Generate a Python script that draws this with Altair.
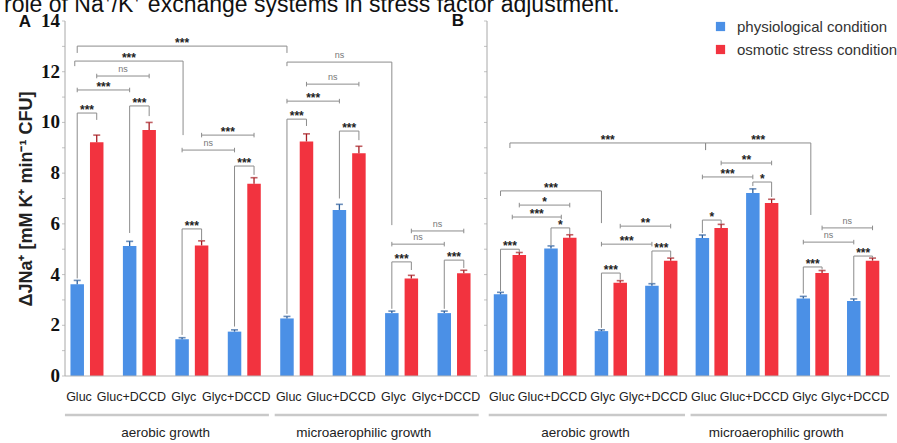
import altair as alt
import pandas as pd

# ---------------- data ----------------
groups = ["Gluc", "Gluc+DCCD", "Glyc", "Glyc+DCCD"]
growth = ["aerobic growth", "microaerophilic growth"]
conditions = ["physiological condition", "osmotic stress condition"]

# Panel A (8 bars per condition: aerobic x4, microaerophilic x4)
a_phys = [3.62, 5.13, 1.45, 1.75, 2.27, 6.55, 2.48, 2.48]
a_phys_err = [0.15, 0.18, 0.06, 0.07, 0.08, 0.22, 0.08, 0.08]
a_osm = [9.22, 9.70, 5.15, 7.58, 9.25, 8.78, 3.85, 4.05]
a_osm_err = [0.28, 0.30, 0.18, 0.24, 0.30, 0.28, 0.12, 0.12]

# Panel B
b_phys = [3.22, 5.03, 1.77, 3.56, 5.44, 7.22, 3.06, 2.96]
b_phys_err = [0.08, 0.10, 0.05, 0.08, 0.12, 0.16, 0.08, 0.08]
b_osm = [4.77, 5.45, 3.68, 4.55, 5.84, 6.82, 4.06, 4.55]
b_osm_err = [0.10, 0.12, 0.08, 0.10, 0.14, 0.15, 0.10, 0.10]

y_ticks = list(range(0, 15))

# significance brackets: (group1, side1, group2, side2, level, leg1 end, leg2 end, label)
# side: -1 physiological bar, +1 osmotic bar, 0 group centre; leg end None = short caps
a_brackets = [
    (0, -1, 4, -1, 13.01, 12.74, 12.74, "***"),
    (0, -1.25, 2, -0.9, 12.42, 12.22, 9.5, "***"),
    (0, 1, 1, 1, 11.83, None, None, "ns"),
    (0, -1, 1, -1, 11.28, None, None, "***"),
    (1, -1, 1, 1, 10.65, 5.64, 10.25, "***"),
    (0, -1, 0, 1, 10.37, 3.85, 10.1, "***"),
    (2, -1, 3, -1, 8.91, None, None, "ns"),
    (2, 1, 3, 1, 9.5, None, None, "***"),
    (3, -1, 3, 1, 8.28, 1.95, 7.93, "***"),
    (2, -1, 2, 1, 5.8, 1.62, 5.36, "***"),
    (4, -1, 6, -1, 12.38, 12.22, 5.95, "ns"),
    (4, 1, 5, 1, 11.51, None, None, "ns"),
    (4, -1, 5, -1, 10.84, None, None, "***"),
    (4, -1, 4, 1, 10.13, 2.45, 9.86, "***"),
    (5, -1, 5, 1, 9.66, 7.0, 9.3, "***"),
    (6, 1, 7, 1, 5.72, None, None, "ns"),
    (6, -1, 7, -1, 5.2, None, None, "ns"),
    (6, -1, 6, 1, 4.5, 2.65, 4.18, "***"),
    (7, -1, 7, 1, 4.57, 2.65, 4.26, "***"),
]
b_brackets = [
    (0, 0, 4, -0.66, 9.19, 8.99, 8.91, "***"),
    (4, -0.66, 6, -0.2, 9.19, 8.91, 6.35, "***"),
    (4, 1, 5, 1, 8.4, None, None, "**"),
    (4, -1, 5, -1, 7.85, None, None, "***"),
    (5, -1, 5, 1, 7.65, 7.49, 7.06, "*"),
    (4, -1, 4, 1, 6.15, 5.64, 5.99, "*"),
    (6, 1, 7, 1, 5.84, None, None, "ns"),
    (6, -1, 7, -1, 5.28, None, None, "ns"),
    (6, -1, 6, 1, 4.3, 3.25, 4.2, "***"),
    (7, -1, 7, 1, 4.73, 3.15, 4.66, "***"),
    (0, -1, 2, -1, 7.3, 7.1, 6.03, "***"),
    (0, 1, 1, 1, 6.74, None, None, "*"),
    (0, 0.25, 1, 0.1, 6.27, None, None, "***"),
    (1, -1, 1, 1, 5.84, 5.15, 5.6, "*"),
    (0, -1, 0, 1, 5.0, 3.35, 4.88, "***"),
    (2, 1, 3, 1, 5.91, None, None, "**"),
    (2, -1, 3, -1, 5.2, None, None, "***"),
    (3, -1, 3, 1, 4.93, 3.65, 4.67, "***"),
    (2, -1, 2, 1, 4.06, 1.9, 3.8, "***"),
]

title_text = "role of Na\u207a/K\u207a exchange systems in stress factor adjustment."
y_title = "\u0394JNa\u207a [mM K\u207a min\u207b\u00b9 CFU]"

# ---------------- styling ----------------
BLUE = "#4b90e6"
RED = "#f2333f"
BLUE_D = "#2c5e9c"
RED_D = "#a61c22"
GRAY = "#a8a8a8"
OFF = 0.186          # half distance between the paired bars (group units)
CAP = 0.09           # half height of bracket caps
SANS = "Liberation Sans"


def bars_df(phys, perr, osm, oerr):
    rows = []
    for i in range(len(phys)):
        for cond, vals, errs, s in ((conditions[0], phys, perr, -1),
                                    (conditions[1], osm, oerr, 1)):
            rows.append(dict(group=groups[i % 4], growth=growth[i // 4], idx=i,
                             condition=cond, pos=i + s * OFF,
                             value=vals[i], top=vals[i] + errs[i]))
    return pd.DataFrame(rows)


def bracket_dfs(brs):
    segs, labs = [], []
    for g1, s1, g2, s2, lvl, b1, b2, lab in brs:
        x1 = g1 + s1 * OFF
        x2 = g2 + s2 * OFF
        segs.append(dict(x=x1, x2=x2, y=lvl, y2=lvl))
        for xx, bb in ((x1, b1), (x2, b2)):
            if bb is None:
                segs.append(dict(x=xx, x2=xx, y=lvl - CAP, y2=lvl + CAP))
            else:
                segs.append(dict(x=xx, x2=xx, y=bb, y2=lvl))
        labs.append(dict(x=(x1 + x2) / 2, y=lvl, label=lab))
    return pd.DataFrame(segs), pd.DataFrame(labs)


cat_df = pd.DataFrame([dict(idx=i, group=groups[i % 4]) for i in range(8)])
growth_df = pd.DataFrame([
    dict(growth=growth[k], x0=4 * k - 0.42, x1=4 * k + 3 + 0.47,
         mid=4 * k + 1.5 - 0.22 * k)
    for k in range(2)
])
tick_df = pd.DataFrame({"v": y_ticks})
one = pd.DataFrame({"a": [0]})

y_scale = alt.Scale(domain=[0, 14], nice=False, zero=True)
color_scale = alt.Scale(domain=conditions, range=[BLUE, RED])

legend = alt.Legend(
    orient="none", legendX=653, legendY=-2, title=None, symbolType="square",
    symbolSize=85, symbolStrokeWidth=0, labelFont=SANS, labelFontSize=15,
    labelColor="#333333", rowPadding=7, labelOffset=9, padding=0, labelLimit=0,
)


def Yq(f):
    return alt.Y(f, type="quantitative", scale=y_scale, axis=None)


def panel(phys, perr, osm, oerr, brs, dom, rng, first):
    xs = alt.Scale(domain=dom, range=rng, nice=False, zero=False)

    def X(f):
        return alt.X(f, type="quantitative", scale=xs, axis=None)

    def Xd(v):
        return alt.X(datum=v, type="quantitative", scale=xs, axis=None)

    bdf = bars_df(phys, perr, osm, oerr)
    segs, labs = bracket_dfs(brs)

    bars = alt.Chart(bdf).mark_bar(size=13.5).encode(
        x=X("pos"),
        y=Yq("value"),
        color=alt.Color("condition:N", scale=color_scale,
                        legend=legend if first else None),
    )
    err_color = alt.condition(alt.datum.condition == conditions[0],
                              alt.value(BLUE_D), alt.value(RED_D))
    err = alt.Chart(bdf).mark_rule(strokeWidth=1.3).encode(
        x=X("pos"), y=Yq("value"), y2="top:Q", color=err_color,
    )
    cap = alt.Chart(bdf).mark_tick(orient="horizontal", size=7, thickness=1.6).encode(
        x=X("pos"), y=Yq("top"), color=err_color,
    )
    br = alt.Chart(segs).mark_rule(color="#8c8c8c", strokeWidth=1).encode(
        x=X("x"), x2="x2:Q", y=Yq("y"), y2="y2:Q",
    )
    stars = alt.Chart(labs).transform_filter(alt.datum.label != "ns").mark_text(
        font=SANS, fontWeight="bold", fontSize=12, color="#222222",
        baseline="alphabetic", dy=1,
    ).encode(x=X("x"), y=Yq("y"), text="label:N")
    ns = alt.Chart(labs).transform_filter(alt.datum.label == "ns").mark_text(
        font=SANS, fontSize=9, color="#777777", baseline="alphabetic", dy=-4,
    ).encode(x=X("x"), y=Yq("y"), text="label:N")

    base = alt.Chart(one).mark_rule(color="#b5b5b5", strokeWidth=1.2).encode(
        x=Xd(dom[0]), x2=alt.X2(datum=dom[1]),
        y=alt.Y(datum=0, type="quantitative", scale=y_scale, axis=None),
    )
    vaxis = alt.Chart(one).mark_rule(color=GRAY, strokeWidth=1).encode(
        x=Xd(dom[0]),
        y=alt.Y(datum=0, type="quantitative", scale=y_scale, axis=None),
        y2=alt.Y2(datum=14),
    )
    vticks = alt.Chart(tick_df).mark_tick(
        orient="horizontal", size=3, thickness=1, color=GRAY, xOffset=-1.5
    ).encode(x=Xd(dom[0]), y=Yq("v"))
    layers = [bars, err, cap, br, stars, ns, base, vaxis, vticks]

    if first:
        vlabels = alt.Chart(tick_df).transform_filter("datum.v % 2 == 0").mark_text(
            font="Liberation Serif", fontWeight="bold", fontSize=19, color="#111111",
            align="right", baseline="middle", dx=-5,
        ).encode(x=Xd(dom[0]), y=Yq("v"), text=alt.Text("v:Q", format="d"))
        ytitle = alt.Chart(one).mark_text(
            text=y_title, font=SANS, fontWeight="bold", fontSize=18, color="#222222",
            angle=270, align="center", baseline="middle",
        ).encode(x=alt.value(-33), y=alt.value(178))
        layers += [vlabels, ytitle]

    cats = alt.Chart(cat_df).mark_text(
        font=SANS, fontSize=12.5, color="#222222", baseline="middle", dx=-8,
    ).encode(x=X("idx"), y=alt.value(376), text="group:N")
    gline = alt.Chart(growth_df).mark_rule(color="#c9c9c9", strokeWidth=2.5).encode(
        x=X("x0"), x2="x1:Q", y=alt.value(394),
    )
    glab = alt.Chart(growth_df).mark_text(
        font=SANS, fontSize=13.5, color="#222222", baseline="middle",
    ).encode(x=X("mid"), y=alt.value(412), text="growth:N")
    layers += [cats, gline, glab]
    return alt.layer(*layers)


panel_a = panel(a_phys, a_phys_err, a_osm, a_osm_err, a_brackets,
                [-0.419, 7.438], [0, 422], True)
panel_b = panel(b_phys, b_phys_err, b_osm, b_osm_err, b_brackets,
                [-0.454, 7.532], [422, 835], False)

title = alt.Chart(one).mark_text(
    text=title_text, font=SANS, fontSize=23, color="#111111",
    align="left", baseline="alphabetic",
).encode(x=alt.value(-56), y=alt.value(-9))
letter_a = alt.Chart(one).mark_text(
    text="A", font=SANS, fontWeight="bold", fontSize=17,
    color="#111111", align="center", baseline="middle",
).encode(x=alt.value(-35), y=alt.value(1))
letter_b = alt.Chart(one).mark_text(
    text="B", font=SANS, fontWeight="bold", fontSize=17,
    color="#111111", align="center", baseline="middle",
).encode(x=alt.value(398), y=alt.value(0))

chart = alt.layer(panel_a, panel_b, title, letter_a, letter_b).resolve_scale(
    x="independent"
).properties(
    width=835, height=355,
    autosize=alt.AutoSizeParams(type="none"),
    padding={"left": 60, "top": 21, "right": 2, "bottom": 67},
    background="white",
).configure_view(stroke=None)

chart.save("out.html", embed_options={"renderer": "svg", "actions": False})
